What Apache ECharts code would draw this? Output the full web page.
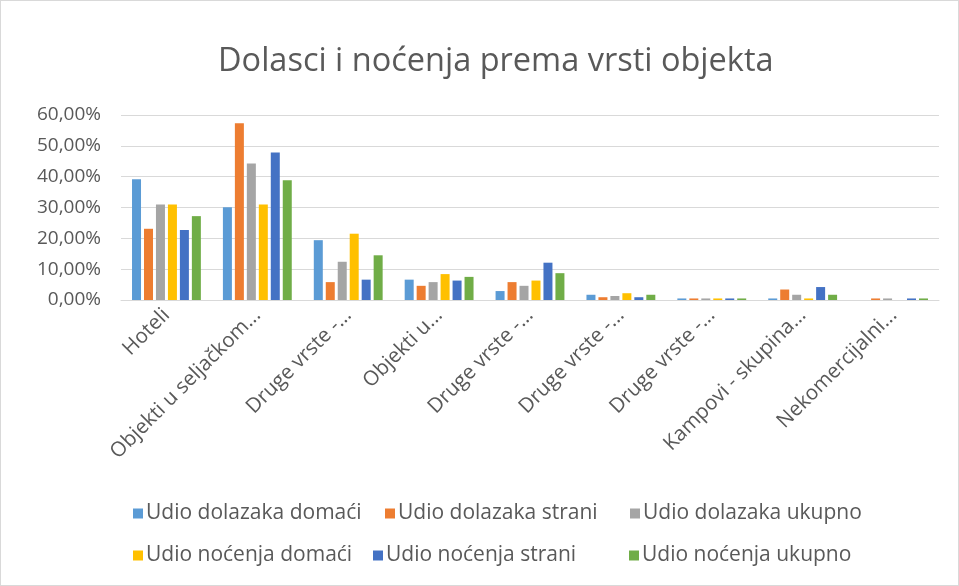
<!DOCTYPE html>
<html>
<head>
<meta charset="utf-8">
<script src="https://cdn.jsdelivr.net/npm/echarts@6/dist/echarts.min.js"></script>
<style>
  html, body { margin: 0; padding: 0; background: #fff; }
  #chart { width: 959px; height: 586px; box-sizing: border-box; border: 1px solid #d9d9d9; }
</style>
</head>
<body>
<div id="chart"></div>
<script>
// kategorije (skraćene kao u originalu)
var categories = ['Hoteli', 'Objekti u seljačkom...', 'Druge vrste -...', 'Objekti u...',
  'Druge vrste -...', 'Druge vrste -...', 'Druge vrste -...', 'Kampovi - skupina...', 'Nekomercijalni...']

var seriesNames = ['Udio dolazaka domaći', 'Udio dolazaka strani', 'Udio dolazaka ukupno',
  'Udio noćenja domaći', 'Udio noćenja strani', 'Udio noćenja ukupno']

// vrijednosti u postocima
var dolasciDomaci = [39.2, 30.1, 19.4, 6.6, 2.9, 1.7, 0.5, 0.5, 0]
var dolasciStrani = [23.1, 57.3, 5.8, 4.6, 5.8, 0.9, 0.5, 3.4, 0.5]
var dolasciUkupno = [31.0, 44.3, 12.4, 5.8, 4.6, 1.3, 0.5, 1.7, 0.5]
var nocenjaDomaci = [31.0, 31.0, 21.5, 8.4, 6.3, 2.2, 0.5, 0.5, 0]
var nocenjaStrani = [22.7, 47.8, 6.6, 6.3, 12.1, 0.9, 0.5, 4.2, 0.5]
var nocenjaUkupno = [27.2, 38.8, 14.5, 7.5, 8.7, 1.7, 0.5, 1.7, 0.5]

var values = [dolasciDomaci, dolasciStrani, dolasciUkupno, nocenjaDomaci, nocenjaStrani, nocenjaUkupno]
var colors = ['#5B9BD5', '#ED7D31', '#A5A5A5', '#FFC000', '#4472C4', '#70AD47']

var font = 'Open Sans'
var textColor = '#595959'

var legendPos = [
  { left: 127, top: 497 }, { left: 379, top: 497 }, { left: 624, top: 497 },
  { left: 127, top: 539 }, { left: 367, top: 539 }, { left: 623, top: 539 }
]

var chart = echarts.init(document.getElementById('chart'))

chart.setOption({
  animation: false,
  color: colors,
  title: {
    text: 'Dolasci i noćenja prema vrsti objekta',
    left: 212,
    top: 39,
    textStyle: { fontFamily: font, fontSize: 32.5, fontWeight: 'normal', color: textColor }
  },
  legend: seriesNames.map(function (name, i) {
    return {
      data: [name],
      left: legendPos[i].left,
      top: legendPos[i].top,
      icon: 'rect',
      itemWidth: 10,
      itemHeight: 10,
      itemGap: 0,
      textStyle: { fontFamily: font, fontSize: 21, color: textColor, padding: [0, 0, 0, -2] }
    }
  }),
  grid: { left: 120, right: 19, top: 114, bottom: 285 },
  xAxis: {
    type: 'category',
    data: categories,
    axisLine: { lineStyle: { color: '#d9d9d9', width: 1 } },
    axisTick: { show: false },
    axisLabel: {
      rotate: 45,
      interval: 0,
      margin: 12,
      fontFamily: font,
      fontSize: 20.5,
      color: textColor
    }
  },
  yAxis: {
    type: 'value',
    min: 0,
    max: 60,
    interval: 10,
    axisLine: { show: false },
    axisTick: { show: false },
    splitLine: { lineStyle: { color: '#d9d9d9', width: 1 } },
    axisLabel: {
      margin: 20,
      fontFamily: font,
      fontSize: 19,
      color: textColor,
      formatter: function (v) { return v.toFixed(2).replace('.', ',') + '%' }
    }
  },
  series: seriesNames.map(function (name, i) {
    return {
      name: name,
      type: 'bar',
      data: values[i],
      barWidth: 9,
      barGap: '33%'
    }
  })
})
</script>
</body>
</html>
